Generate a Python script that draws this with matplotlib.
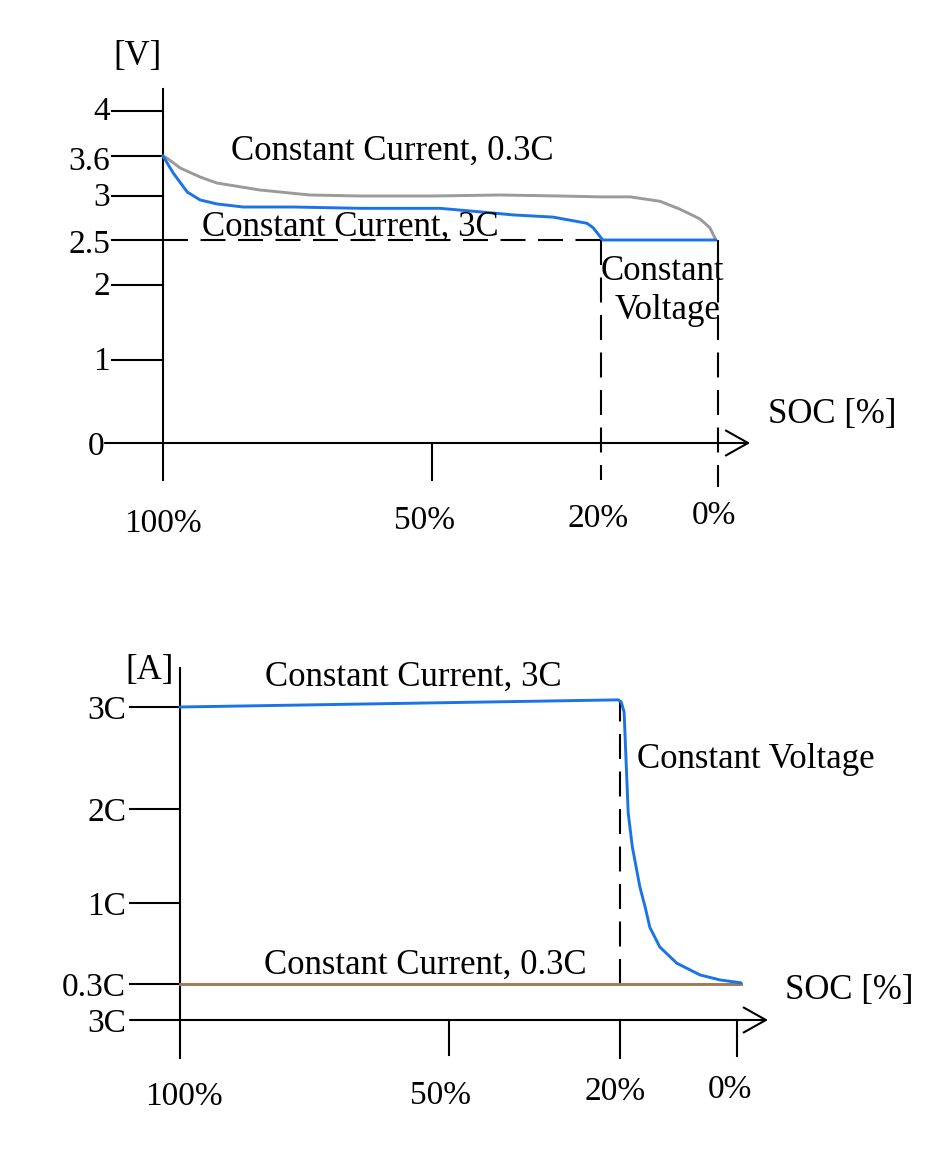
import numpy as np
import matplotlib
matplotlib.use("Agg")
import matplotlib.pyplot as plt

plt.rcParams['font.family'] = ['Liberation Serif', 'DejaVu Serif']
plt.rcParams['lines.scale_dashes'] = False

W, H = 925, 1167

# ---------------- data ----------------
# Top panel: voltage [V] vs SOC [%]
soc_v_03c = [100, 99.3, 96.8, 93.1, 90.0, 82.0, 72.7, 63.4, 50, 37.9, 27.3, 20, 15.0, 9.9, 6.5, 3.1, 1.4, 0.35]
volt_03c = [3.60, 3.57, 3.42, 3.285, 3.195, 3.09, 3.015, 3.0, 3.0, 3.015, 3.0, 2.99, 2.99, 2.94, 2.85, 2.74, 2.64, 2.5]
soc_v_3c = [100, 98.1, 95.5, 93.1, 90.0, 85.1, 75.8, 63.4, 48.6, 41.5, 35.6, 28.5, 22.5, 21.4, 19.7, 0.35]
volt_3c = [3.6, 3.345, 3.06, 2.955, 2.91, 2.875, 2.875, 2.86, 2.86, 2.82, 2.785, 2.76, 2.69, 2.64, 2.5, 2.5]
v_ticks = [0, 1, 2, 2.5, 3, 3.6, 4]
v_tick_labels = ['0', '1', '2', '2.5', '3', '3.6', '4']
soc_ticks = [100, 50, 20, 0]
soc_tick_labels = ['100%', '50%', '20%', '0%']
cv_voltage = 2.5
cv_start_soc = 20

# Bottom panel: current [C-rate] vs SOC [%]
soc_i_cccv = [100, 20.3, 19.8, 19.3, 18.6, 17.9, 16.6, 15.7, 14.9, 13.2, 10.3, 6.3, 2.9, -0.7]
cur_cccv = [3.0, 3.07, 3.05, 2.95, 1.96, 1.60, 1.17, 0.965, 0.79, 0.62, 0.48, 0.378, 0.335, 0.31]
soc_i_cc = [100, -0.7]
cur_cc = [0.3, 0.3]
i_ticks = [0, 0.3, 1, 2, 3]
i_tick_labels = ['3C', '0.3C', '1C', '2C', '3C']

BLUE = '#1a73e8'
GRAY = '#9a9a9a'
BROWN = '#a07a52'
K = 'black'
LW_AX = 1.5
LW_C = 2.1
DASH = (0, (18, 9))
FS = 25
FS_T = 24
TDY = 4  # text baseline nudge in pixels (downwards)


def pw(xk, yk):
    xk = np.asarray(xk, float)
    yk = np.asarray(yk, float)
    s0 = (yk[1] - yk[0]) / (xk[1] - xk[0])
    s1 = (yk[-1] - yk[-2]) / (xk[-1] - xk[-2])

    def f(x):
        x = np.asarray(x, dtype=float)
        y = np.interp(x, xk, yk)
        y = np.where(x < xk[0], yk[0] + (x - xk[0]) * s0, y)
        y = np.where(x > xk[-1], yk[-1] + (x - xk[-1]) * s1, y)
        return y
    return f


def setup(ax, soc_k, px_k, val_k, py_k):
    sk = np.asarray(soc_k, float)
    pk = -np.asarray(px_k, float)
    o = np.argsort(sk)
    fx, ix = pw(sk[o], pk[o]), pw(pk[o], sk[o])
    ax.set_xscale('function', functions=(fx, ix))
    vk = np.asarray(val_k, float)
    qk = H - np.asarray(py_k, float)
    o2 = np.argsort(vk)
    fy, iy = pw(vk[o2], qk[o2]), pw(qk[o2], vk[o2])
    ax.set_yscale('function', functions=(fy, iy))
    ax.set_xlim(float(ix(0.0)), float(ix(-W)))
    ax.set_ylim(float(iy(0.0)), float(iy(H)))
    ax.set_axis_off()


fig = plt.figure(figsize=(W / 100, H / 100), dpi=100)
fig.patch.set_facecolor('white')


def ptext(x, y, s, **kw):
    kw.setdefault('fontsize', FS)
    kw.setdefault('va', 'center')
    kw.setdefault('ha', 'center')
    fig.text(x / W, 1 - (y + TDY) / H, s, **kw)


# ================= top panel =================
ax1 = fig.add_axes([0, 0, 1, 1], label='top')
setup(ax1, soc_ticks, [163, 432, 601, 718], v_ticks, [443, 360, 285, 240, 196, 156, 111])

ax1.plot([100, 100], [-0.45, 4.2], color=K, lw=LW_AX)
ax1.annotate('', xy=(-5.5, 0), xytext=(110.8, 0),
             arrowprops=dict(arrowstyle='->, head_length=0.8, head_width=0.45',
                             mutation_scale=20, lw=LW_AX, color=K,
                             shrinkA=0, shrinkB=0))
v_lab_dy = {4: -1, 3.6: 4, 3: 0, 2.5: 3, 2: 0, 1: 0, 0: 2}
for v, lab in zip(v_ticks, v_tick_labels):
    if v != 0:
        ax1.plot([109.5, 100], [v, v], color=K, lw=LW_AX)
    ax1.annotate(lab, xy=(100, v), xytext=(-53 if v != 0 else -59, -TDY - v_lab_dy[v] + 2),
                 textcoords='offset pixels', ha='right', va='center', fontsize=FS_T)
ax1.plot([50, 50], [0, -0.45], color=K, lw=LW_AX)
ax1.plot([soc_ticks[0], cv_start_soc], [cv_voltage, cv_voltage], color=K, lw=LW_AX, ls=DASH)
ax1.plot([cv_start_soc, cv_start_soc], [cv_voltage, -0.45], color=K, lw=LW_AX, ls=DASH)
ax1.plot([0, 0], [cv_voltage, -0.53], color=K, lw=LW_AX, ls=DASH)

ax1.plot(soc_v_03c, volt_03c, color=GRAY, lw=LW_C, solid_capstyle='round', solid_joinstyle='round')
ax1.plot(soc_v_3c, volt_3c, color=BLUE, lw=LW_C, solid_capstyle='round', solid_joinstyle='round')

top_off = [(0, -77), (-7, -74), (-3, -72), (-4, -69)]
for s, lab, (dx, dy) in zip(soc_ticks, soc_tick_labels, top_off):
    ax1.annotate(lab, xy=(s, 0), xytext=(dx, dy - TDY), textcoords='offset pixels',
                 ha='center', va='center', fontsize=FS_T)

ptext(138, 52, '[V]')
ptext(392, 147, 'Constant Current, 0.3C')
ptext(350, 223, 'Constant Current, 3C')
ptext(662, 268, 'Constant')
ptext(668, 307, 'Voltage')
ptext(768, 410, 'SOC [%]', ha='left')

# ================= bottom panel =================
ax2 = fig.add_axes([0, 0, 1, 1], label='bottom')
setup(ax2, soc_ticks, [180, 449, 620, 737], i_ticks, [1020, 984, 903, 809, 707])

ax2.plot([100, 100], [-0.317, 3.38], color=K, lw=LW_AX)
ax2.annotate('', xy=(-5.3, 0), xytext=(109.3, 0),
             arrowprops=dict(arrowstyle='->, head_length=0.8, head_width=0.45',
                             mutation_scale=20, lw=LW_AX, color=K,
                             shrinkA=0, shrinkB=0))
for v, lab in zip(i_ticks, i_tick_labels):
    if v != 0:
        ax2.plot([109.3, 100], [v, v], color=K, lw=LW_AX)
    ax2.annotate(lab, xy=(100, v), xytext=(-54, -TDY),
                 textcoords='offset pixels', ha='right', va='center', fontsize=FS_T)
ax2.plot([50, 50], [0, -0.29], color=K, lw=LW_AX)
ax2.plot([20, 20], [0, -0.317], color=K, lw=LW_AX)
ax2.plot([0, 0], [0, -0.3], color=K, lw=LW_AX)
ax2.plot([cv_start_soc, cv_start_soc], [cur_cc[0], 3.07], color=K, lw=LW_AX, ls=DASH)

ax2.plot(soc_i_cc, cur_cc, color=BROWN, lw=LW_C)
ax2.plot(soc_i_cccv, cur_cccv, color=BLUE, lw=LW_C, solid_capstyle='round', solid_joinstyle='round')

bot_off = [(4, -73), (-8, -72), (-5, -68), (-7, -66)]
for s, lab, (dx, dy) in zip(soc_ticks, soc_tick_labels, bot_off):
    ax2.annotate(lab, xy=(s, 0), xytext=(dx, dy - TDY), textcoords='offset pixels',
                 ha='center', va='center', fontsize=FS_T)

ptext(150, 667, '[A]')
ptext(413, 673, 'Constant Current, 3C')
ptext(637, 755, 'Constant Voltage', ha='left')
ptext(425, 961, 'Constant Current, 0.3C')
ptext(785, 987, 'SOC [%]', ha='left')

fig.savefig('out.png', dpi=100, facecolor='white')
